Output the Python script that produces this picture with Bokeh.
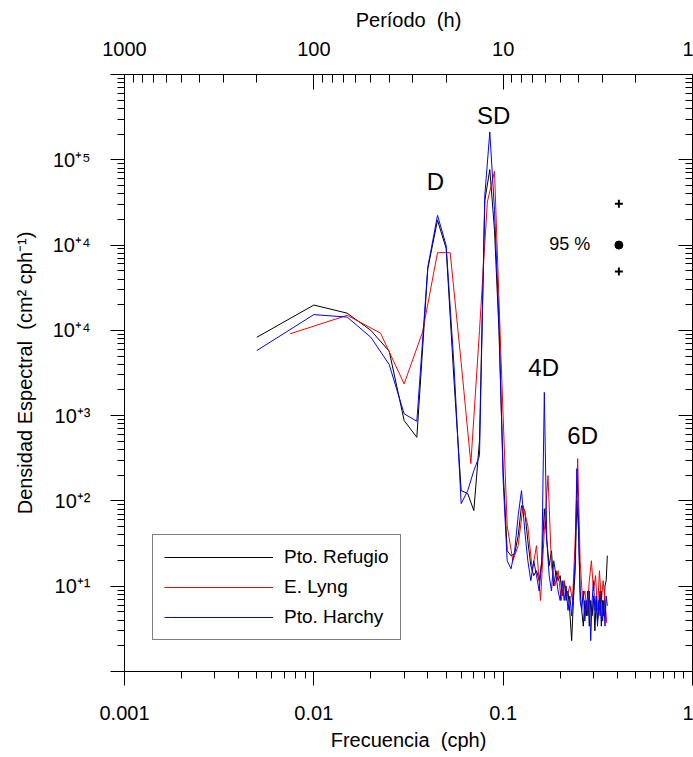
from bokeh.plotting import figure
from bokeh.models import (LogAxis, FixedTicker, CustomJSTickFormatter, Range1d,
                          Legend, LegendItem, Label)
from bokeh.embed import file_html
from bokeh.resources import INLINE

# ---------------- data ----------------
freq_bb = [0.005, 0.010, 0.015, 0.020, 0.025, 0.030, 0.035, 0.040, 0.045, 0.050,
           0.055, 0.060, 0.065, 0.070, 0.075, 0.080, 0.085, 0.090, 0.095, 0.100,
           0.105, 0.110, 0.115, 0.120, 0.125, 0.130, 0.135, 0.140, 0.145, 0.150,
           0.155, 0.160, 0.165, 0.170, 0.175, 0.180, 0.185, 0.190, 0.195, 0.200,
           0.205, 0.210, 0.215, 0.220, 0.225, 0.230, 0.235, 0.240, 0.245, 0.250,
           0.255, 0.260, 0.265, 0.270, 0.275, 0.280, 0.285, 0.290, 0.295, 0.300,
           0.305, 0.310, 0.315, 0.320, 0.325, 0.330, 0.335, 0.340, 0.345, 0.350,
           0.355]

refugio = [8300, 19800, 15900, 10000, 5700, 875, 557, 53300, 195000, 91400,
           2580, 132, 122, 77, 511, 334000, 767000, 149000, 9970, 227,
           26, 22.8, 24, 39, 88, 77, 34, 17.4, 13.3, 15.2,
           11.6, 19.9, 81, 34, 17.4, 26, 10.1, 15.2, 11.6, 13.3,
           7.7, 11.6, 6.8, 8.8, 4.9, 2.3, 6.8, 15.2, 101, 45,
           8.8, 5.2, 3.4, 6.8, 4.5, 8.8, 3.4, 6.8, 4.5, 7.7,
           3.0, 6.8, 3.9, 5.2, 8.8, 3.4, 6.8, 4.5, 10.1, 11.6,
           22.8]

harchy = [5800, 15300, 14300, 8300, 3980, 1050, 860, 55200, 223000, 99000,
          3870, 93, 132, 227, 340, 383000, 2120000, 255000, 13000, 173,
          19.9, 16, 26, 67, 132, 45, 19.9, 11.6, 19.9, 13.3,
          8.8, 19.9, 1870, 34, 13.3, 8.8, 19.9, 13.3, 8.8, 6.8,
          11.6, 6.8, 10.1, 5.2, 7.7, 4.5, 8.8, 19.9, 239, 58.7,
          6.8, 5.2, 8.8, 3.9, 6.8, 4.5, 8.8, 2.3, 6.8, 11.6,
          5.2, 7.7, 3.4, 6.8, 4.5, 8.8, 3.9, 6.8, 3.4, 7.7,
          5.9]

freq_lyng = [0.0075, 0.015, 0.0225, 0.03, 0.0375, 0.045, 0.0525, 0.06, 0.0675, 0.075,
             0.0825, 0.09, 0.0975, 0.105, 0.1125, 0.12, 0.1275, 0.135, 0.1425, 0.15,
             0.1575, 0.165, 0.1725, 0.18, 0.1875, 0.195, 0.2025, 0.21, 0.2175, 0.225,
             0.2325, 0.24, 0.2475, 0.255, 0.2625, 0.27, 0.2775, 0.285, 0.2925, 0.3,
             0.3075, 0.315, 0.3225, 0.33, 0.3375, 0.345, 0.3525]

lyng = [9120, 15000, 9270, 2360, 9530, 81500, 81500, 4200, 274, 9970,
        320000, 733000, 4440, 51, 19.9, 29.9, 88, 51, 15.2, 29.9,
        6.8, 45, 198, 17.4, 10.1, 15.2, 6.8, 11.6, 7.7, 10.1,
        6.8, 34, 314, 19.9, 6.8, 8.8, 5.2, 11.6, 19.9, 8.8,
        13.3, 5.2, 15.2, 6.8, 11.6, 6.8, 3.7]

series_names = ["Pto. Refugio", "E. Lyng", "Pto. Harchy"]
series_colors = ["#000000", "#ff0000", "#0000ff"]

# 95 % confidence marker
ci_freq = [0.4085]
ci_center = [1.0e5]
ci_bounds = [3.06e5, 4.9e4]

# peak annotations (text, frequency, density)
peak_labels = ["D", "SD", "4D", "6D"]
peak_freq = [0.0439, 0.0890, 0.1636, 0.263]
peak_dens = [5.57e5, 3.28e6, 3.66e3, 584]

# ticks
x_major = [0.001, 0.01, 0.1, 1.0]
x_minor = [m * d for d in [0.001, 0.01, 0.1] for m in range(2, 10)]
period_minor = [p * d for d in [100, 10, 1] for p in range(2, 10)]
y_major = [1, 10, 100, 1e3, 1e4, 1e5, 1e6, 1e7]
y_minor = [m * d for d in [1, 10, 100, 1e3, 1e4, 1e5, 1e6] for m in range(2, 10)]
y_tick_labels = ["", "10\u207a\u00b9", "10\u207a\u00b2", "10\u207a\u00b3",
                 "10\u207a\u2074", "10\u207a\u2074", "10\u207a\u2075", ""]

FONT = "Liberation Sans"
SP = "\u00a0\u00a0"

p = figure(width=693, height=757, x_axis_type="log", y_axis_type="log",
           x_range=Range1d(0.001, 1.0), y_range=Range1d(1.0, 1e7),
           output_backend="svg", toolbar_location=None,
           min_border_left=124, min_border_right=1, min_border_top=74,
           min_border_bottom=86)
p.xgrid.visible = False
p.ygrid.visible = False
p.outline_line_color = "black"
p.background_fill_color = "white"
p.border_fill_color = "white"

def style_axis(ax, t_in, t_out, m_in, m_out):
    ax.axis_line_color = "black"
    ax.major_tick_line_color = "black"
    ax.minor_tick_line_color = "black"
    ax.major_tick_in = t_in
    ax.major_tick_out = t_out
    ax.minor_tick_in = m_in
    ax.minor_tick_out = m_out
    ax.major_label_text_font = FONT
    ax.major_label_text_font_size = "20px"
    ax.major_label_text_color = "black"
    ax.axis_label_text_font = FONT
    ax.axis_label_text_font_size = "20px"
    ax.axis_label_text_font_style = "normal"
    ax.axis_label_text_color = "black"

# bottom axis
xa = p.xaxis[0]
xa.ticker = FixedTicker(ticks=x_major, minor_ticks=x_minor)
xa.formatter = CustomJSTickFormatter(code="""
  const e = Math.round(Math.log10(tick));
  if (e >= 0) return "1";
  return (Math.pow(10, e)).toFixed(-e);
""")
style_axis(xa, 0, 14, 0, 7)
xa.major_label_standoff = 20
xa.axis_label = "Frecuencia" + SP + "(cph)"
xa.axis_label_standoff = 6

# left axis
ya = p.yaxis[0]
ya.ticker = FixedTicker(ticks=y_major, minor_ticks=y_minor)
ya.formatter = CustomJSTickFormatter(args=dict(labels=y_tick_labels), code="""
  const e = Math.round(Math.log10(tick));
  return labels[e];
""")
style_axis(ya, 0, 14, 0, 7)
ya.major_label_standoff = 20
ya.axis_label = "Densidad Espectral" + SP + "(cm\u00b2 cph\u207b\u00b9)"
ya.axis_label_standoff = 14

# top axis (period)
ta = LogAxis(ticker=FixedTicker(ticks=x_major, minor_ticks=[1.0 / v for v in period_minor]),
             formatter=CustomJSTickFormatter(code="return String(Math.round(1/tick));"))
style_axis(ta, 15, 0, 8, 0)
ta.major_label_standoff = 19
ta.axis_label = "Per\u00edodo" + SP + "(h)"
ta.axis_label_standoff = 8
p.add_layout(ta, "above")

# right axis (ticks only)
ra = LogAxis(ticker=FixedTicker(ticks=y_major, minor_ticks=y_minor),
             formatter=CustomJSTickFormatter(code="return '';"))
style_axis(ra, 14, 0, 7, 0)
ra.major_label_standoff = 0
ra.major_label_text_font_size = "0px"
p.add_layout(ra, "right")

# data lines
r1 = p.line(freq_bb, refugio, line_color=series_colors[0], line_width=1)
r2 = p.line(freq_lyng, lyng, line_color=series_colors[1], line_width=1)
r3 = p.line(freq_bb, harchy, line_color=series_colors[2], line_width=1)

# confidence marker
p.scatter(ci_freq, ci_center, marker="circle", size=8, color="black")
p.scatter(ci_freq * 2, ci_bounds, marker="cross", size=8, line_width=2, color="black")
p.add_layout(Label(x=0.2245, y=1.04e5, text="95 %", text_font=FONT, text_color="black",
                   text_font_size="18px", text_align="center", text_baseline="middle"))

for t, fx, fy in zip(peak_labels, peak_freq, peak_dens):
    p.add_layout(Label(x=fx, y=fy, text=t, text_font=FONT, text_font_size="24px",
                       text_color="black", text_align="center", text_baseline="middle"))

legend = Legend(items=[LegendItem(label=series_names[0], renderers=[r1]),
                       LegendItem(label=series_names[1], renderers=[r2]),
                       LegendItem(label=series_names[2], renderers=[r3])],
                location=(28, 31))
legend.border_line_color = "black"
legend.border_line_width = 1
legend.background_fill_alpha = 1
legend.glyph_width = 109
legend.glyph_height = 20
legend.label_height = 20
legend.label_standoff = 11
legend.padding = 11
legend.spacing = 8
legend.margin = 0
legend.label_text_font = FONT
legend.label_text_font_size = "19px"
legend.label_text_color = "black"
p.add_layout(legend, "center")

open("out.html", "w").write(file_html(p, INLINE))
